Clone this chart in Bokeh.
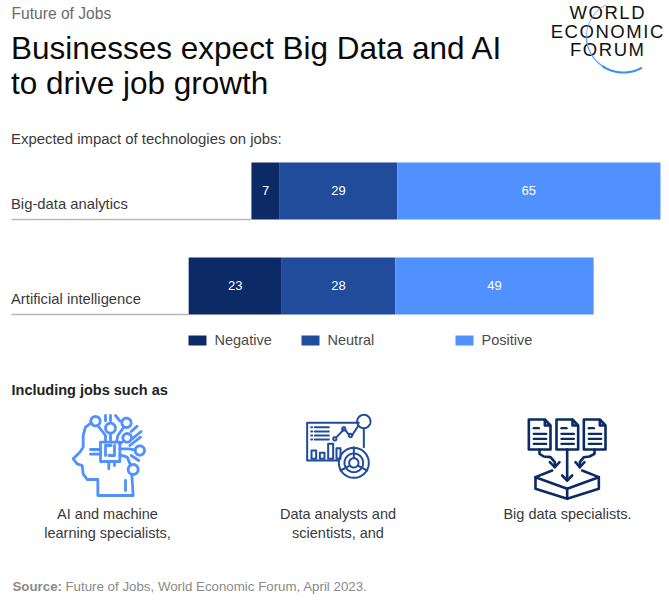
import numpy as np
from bokeh.plotting import figure
from bokeh.models import Range1d
from bokeh.core.properties import value
from bokeh.embed import file_html
from bokeh.resources import INLINE

categories = ["Big-data analytics", "Artificial intelligence"]
negative = [7, 23]
neutral = [29, 28]
positive = [65, 49]
series_names = ["Negative", "Neutral", "Positive"]
NEG, NEU, POS = "#0c2a66", "#214b9b", "#5090ff"
FONT = value("Liberation Sans")

W, H = 668, 598
px_per_unit = 4.05
zero_px = 338
row_gap = 95
row0_px = 190.5

p = figure(width=W, height=H, output_backend="svg", toolbar_location=None,
           x_range=Range1d(-zero_px / px_per_unit, (W - zero_px) / px_per_unit),
           y_range=Range1d((H - row0_px) / row_gap, -row0_px / row_gap),
           min_border=0, outline_line_color=None, margin=(0, 0, 0, 0))
p.axis.visible = False
p.grid.visible = False
p.extra_x_ranges["px"] = Range1d(0, W)
p.extra_y_ranges["px"] = Range1d(H, 0)
P = dict(x_range_name="px", y_range_name="px")


def txt(x, y, s, size, color, weight="normal", align="left"):
    p.text([x], [y], text=[s], text_font=FONT, text_font_size=f"{size}px", text_color=color,
           text_font_style=weight, text_align=align, text_baseline="middle", **P)


# --- bars: diverging, neutral centred on zero
rows = np.arange(len(categories))
neg = np.array(negative, float)
neu = np.array(neutral, float)
pos = np.array(positive, float)
BH = 0.6
for l, r, c in [(-neu / 2 - neg, -neu / 2, NEG), (-neu / 2, neu / 2, NEU), (neu / 2, neu / 2 + pos, POS)]:
    p.hbar(y=rows, left=l, right=r, height=BH, fill_color=c, line_color=None)
for cen, vals in [(-neu / 2 - neg / 2, negative), (np.zeros(2), neutral), (neu / 2 + pos / 2, positive)]:
    p.text(cen, rows, text=[str(v) for v in vals], text_color="white", text_font=FONT,
           text_font_size="13px", text_align="center", text_baseline="middle", y_offset=-1)
for i, cat in enumerate(categories):
    p.segment([-zero_px / px_per_unit + 11 / px_per_unit], [i + BH / 2], [(-neu[i] / 2 - neg[i])], [i + BH / 2],
              line_color="#b8b8b8", line_width=1.5)
    p.text([10.5], [i], text=[cat], text_font=FONT, text_font_size="14.8px", text_color="#3a3a3a",
           text_baseline="middle", y_offset=13, x_range_name="px")

# --- header
txt(11, 12.5, "Future of Jobs", 15.6, "#6b6b6b")
txt(10.5, 47, "Businesses expect Big Data and AI", 31.5, "#0a0a0a")
txt(10.5, 82, "to drive job growth", 31.5, "#0a0a0a")
txt(10.5, 138, "Expected impact of technologies on jobs:", 14.9, "#3a3a3a")

# --- logo
hs = "\u200a"
for s, y in [("WORLD", 12), ("ECONOMIC", 30.5), ("FORUM", 49)]:
    txt(606.5, y, hs.join(s), 18.5, "#111111", align="center")
t = np.radians(np.linspace(118, 180, 40))
p.line(623 + 37 * np.cos(t) * 1.0, 36 - 36 * np.sin(t), line_color="#5a9bf0", line_width=0.9, **P)
t = np.radians(np.linspace(180, 235, 30))
p.line(623 + 37 * np.cos(t), 36 - 36 * np.sin(t), line_color="#4f97f5", line_width=1.2, **P)
t = np.radians(np.linspace(235, 300, 30))
p.line(623 + 37 * np.cos(t), 36 - 36 * np.sin(t), line_color="#3f8ff5", line_width=2.2, **P)

# --- legend
for x, name, c in zip([188, 301, 455], series_names, [NEG, NEU, POS]):
    p.quad(left=[x], right=[x + 18], top=[335], bottom=[345], fill_color=c, line_color=None, **P)
    txt(x + 26, 339.5, name, 14.5, "#4a4a4a")

txt(11, 389.5, "Including jobs such as", 14.5, "#222222", weight="bold")
for x, lines in [(107, ["AI and machine", "learning specialists,"]),
                 (337.5, ["Data analysts and", "scientists, and"]),
                 (567, ["Big data specialists."])]:
    for k, s in enumerate(lines):
        txt(x, 513 + 19 * k, s, 14.5, "#3a3a3a", align="center")

txt(12, 586, "Source:", 13.3, "#8a8a8a", weight="bold")
txt(65, 586, "Future of Jobs, World Economic Forum, April 2023.", 13.3, "#8a8a8a")


# --- icons, traced in crop coordinates (3x)
def poly(ox, oy, pts, color, lw=2.8):
    a = np.array(pts, float)
    p.line(ox + a[:, 0] / 3, oy + a[:, 1] / 3, line_color=color, line_width=lw, line_join="round", line_cap="round", **P)


def ring(ox, oy, cx, cy, r, color, lw=2.8):
    t = np.linspace(0, 2 * np.pi, 48)
    p.line(ox + (cx + r * np.cos(t)) / 3, oy + (cy + r * np.sin(t)) / 3, line_color=color, line_width=lw, **P)


def box(ox, oy, x0, y0, x1, y1, color, lw=2.8):
    poly(ox, oy, [(x0, y0), (x1, y0), (x1, y1), (x0, y1), (x0, y0)], color, lw)


# head
c = POS
for pts in [
    [(152, 52), (135, 65), (128, 90), (128, 125), (118, 140), (98, 160), (110, 175), (125, 180), (128, 205), (140, 222), (172, 222), (172, 270), (278, 270), (274, 208)],
    [(195, 150), (195, 120), (212, 120)], [(222, 120), (222, 150), (205, 150)],
    [(150, 132), (180, 132)], [(150, 146), (180, 146)], [(205, 168), (205, 190)], [(222, 168), (222, 180)],
    [(210, 83), (210, 110)], [(172, 60), (195, 90), (195, 110)], [(250, 65), (232, 90), (228, 110)],
    [(238, 115), (247, 108)], [(238, 130), (265, 130), (284, 133)], [(238, 148), (260, 155), (270, 178)],
    [(195, 30), (195, 46)], [(210, 30), (210, 46)], [(225, 30), (238, 46)],
    [(272, 78), (290, 62)], [(275, 100), (302, 78)], [(268, 120), (300, 95)],
    [(272, 150), (295, 165)], [(255, 225), (255, 255)],
]:
    poly(40, 405, pts, c)
box(40, 405, 180, 110, 238, 168, c)
for cx, cy, r in [(165, 47, 14), (210, 68, 15), (258, 52, 14), (260, 97, 13), (298, 135, 14), (278, 192, 15)]:
    ring(40, 405, cx, cy, r, c)

# data analysis
c = NEU
for pts in [
    [(205, 52), (50, 52), (50, 165), (145, 165)], [(220, 70), (220, 125)],
    [(73, 65), (115, 65)], [(73, 78), (115, 78)], [(73, 90), (115, 90)], [(73, 102), (115, 102)],
    [(138, 95), (160, 72)], [(165, 75), (176, 88)], [(186, 88), (204, 60)],
    [(190, 125), (190, 155)], [(150, 195), (175, 182)], [(230, 195), (205, 182)],
]:
    poly(290, 405, pts, c, 2.0)
for y in [65, 78, 90, 102]:
    poly(290, 405, [(62, y), (65, y)], c, 2.0)
for x0, y0, x1 in [(63, 135, 77), (88, 142, 102), (113, 115, 128), (138, 128, 150)]:
    poly(290, 405, [(x0, 160), (x0, y0), (x1, y0), (x1, 160), (x0, 160)], c, 2.0)
for cx, cy, r in [(220, 48, 20), (190, 172, 45), (190, 172, 28), (190, 172, 14), (133, 100, 5), (160, 70, 5), (180, 90, 5)]:
    ring(290, 405, cx, cy, r, c, 2.0)

# big data
c = NEG
for dx in [0, 83, 165]:
    poly(515, 405, [(88 + dx, 42), (40 + dx, 42), (40 + dx, 132), (105 + dx, 132), (105 + dx, 60), (88 + dx, 42), (88 + dx, 60), (105 + dx, 60)], c, 2.6)
    poly(515, 405, [(55 + dx, 68), (70 + dx, 68)], c, 2.4)
    for y in [85, 100, 115]:
        poly(515, 405, [(55 + dx, y), (92 + dx, y)], c, 2.4)
for pts in [
    [(72, 132), (72, 145), (85, 153), (105, 155), (118, 170), (118, 185)], [(103, 170), (118, 185), (132, 170)],
    [(155, 132), (155, 225)], [(140, 210), (155, 225), (170, 210)],
    [(237, 132), (237, 145), (222, 153), (205, 155), (193, 170), (193, 185)], [(180, 170), (193, 185), (207, 170)],
    [(110, 195), (60, 215), (155, 250), (250, 215), (200, 195)],
    [(60, 215), (60, 250), (155, 280), (250, 250), (250, 215)], [(155, 250), (155, 280)],
]:
    poly(515, 405, pts, c, 2.6)

open("out.html", "w").write(file_html(p, INLINE))
